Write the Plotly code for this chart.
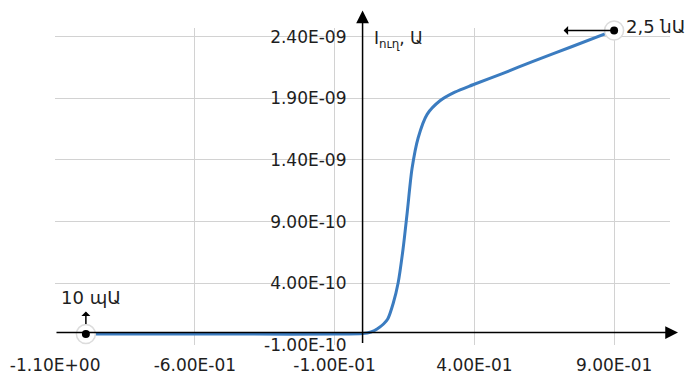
import plotly.graph_objects as go

# ---- data ----
voltage = [-0.99, -0.7, -0.4, -0.1, 0.0, 0.03, 0.052, 0.075, 0.09, 0.11, 0.127,
           0.145, 0.16, 0.177, 0.199, 0.231, 0.277, 0.33, 0.395, 0.5, 0.61, 0.75, 0.9]
current_nA = [-0.012, -0.012, -0.012, -0.012, -0.008, 0.005, 0.03, 0.07, 0.11, 0.24, 0.40,
              0.68, 0.98, 1.33, 1.58, 1.77, 1.88, 1.95, 2.01, 2.10, 2.20, 2.32, 2.45]
current = [v * 1e-9 for v in current_nA]

x_tickvals = [-1.1, -0.6, -0.1, 0.4, 0.9]
x_ticktext = ["-1.10E+00", "-6.00E-01", "-1.00E-01", "4.00E-01", "9.00E-01"]
y_tickvals = [-1e-10, 4e-10, 9e-10, 1.4e-9, 1.9e-9, 2.4e-9]
y_ticktext = ["-1.00E-10", "4.00E-10", "9.00E-10", "1.40E-09", "1.90E-09", "2.40E-09"]

start_label = "10 պԱ"
end_label = "2,5 նԱ"
y_title = "I<sub>ուղ</sub>, Ա"

FONT = "DejaVu Sans"
LINE_COLOR = "#3b7cc0"
GRID = "#d2d2d2"
TXT = "#1e1e1e"

fig = go.Figure()
fig.add_trace(go.Scatter(
    x=voltage, y=current, mode="lines",
    line=dict(color=LINE_COLOR, width=3, shape="spline", smoothing=0.8),
    hoverinfo="skip", showlegend=False, cliponaxis=False))

ends_x = [voltage[0], voltage[-1]]
ends_y = [current[0], current[-1]]
fig.add_trace(go.Scatter(
    x=ends_x, y=ends_y, mode="markers",
    marker=dict(size=19, color="white", line=dict(color="#dcdcdc", width=1.5)),
    showlegend=False, hoverinfo="skip", cliponaxis=False))
fig.add_trace(go.Scatter(
    x=ends_x, y=ends_y, mode="markers",
    marker=dict(size=8, color="black"),
    showlegend=False, hoverinfo="skip", cliponaxis=False))

annotations = [
    # x axis arrow
    dict(xref="paper", yref="y", x=1.013, y=0, ax=-623, ay=0, axref="pixel", ayref="pixel",
         text="", showarrow=True, arrowhead=2, arrowsize=1.7, arrowwidth=1.5, arrowcolor="black"),
    # y axis arrow
    dict(xref="x", yref="paper", x=0, y=1.055, ax=0, ay=334, axref="pixel", ayref="pixel",
         text="", showarrow=True, arrowhead=2, arrowsize=1.7, arrowwidth=1.5, arrowcolor="black"),
    # y title
    dict(xref="x", yref="paper", x=0, y=0.963, xshift=9, xanchor="left", yanchor="middle",
         text=y_title, showarrow=False, font=dict(family=FONT, size=17, color=TXT)),
    # start marker arrow + label
    dict(xref="x", yref="y", x=voltage[0], y=current[0], ax=0, ay=-24,
         text="", showarrow=True, arrowside="start", arrowhead=2, arrowsize=1.2,
         arrowwidth=1.5, arrowcolor="black", standoff=10),
    dict(xref="x", yref="y", x=voltage[0], y=current[0], yshift=37, xshift=5,
         text=start_label, showarrow=False, font=dict(family=FONT, size=18, color=TXT)),
    # end marker arrow + label
    dict(xref="x", yref="y", x=voltage[-1], y=current[-1], ax=-52, ay=0,
         text="", showarrow=True, arrowside="start", arrowhead=2, arrowsize=1.5,
         arrowwidth=1.5, arrowcolor="black", standoff=2),
    dict(xref="x", yref="y", x=voltage[-1], y=current[-1], xshift=10, yshift=4,
         xanchor="left", text=end_label, showarrow=False,
         font=dict(family=FONT, size=18, color=TXT)),
]

fig.update_layout(
    width=690, height=376,
    margin=dict(l=55, r=20, t=28, b=31, autoexpand=False),
    paper_bgcolor="white", plot_bgcolor="white",
    annotations=annotations,
    xaxis=dict(range=[-1.1005, 1.1], tickmode="array", tickvals=x_tickvals, ticktext=x_ticktext,
               showgrid=True, gridcolor=GRID, gridwidth=1, zeroline=False, showline=False,
               automargin=False,
               ticks="", tickfont=dict(family=FONT, size=17, color=TXT), ticklabelstandoff=8),
    yaxis=dict(range=[-1.005e-10, 2.47e-9], tickmode="array", tickvals=y_tickvals, ticktext=y_ticktext,
               anchor="free", position=0.5, automargin=False,
               showgrid=True, gridcolor=GRID, gridwidth=1, zeroline=False, showline=False,
               ticks="", tickfont=dict(family=FONT, size=17, color=TXT), ticklabelstandoff=16),
)

fig.write_html("out.html")
